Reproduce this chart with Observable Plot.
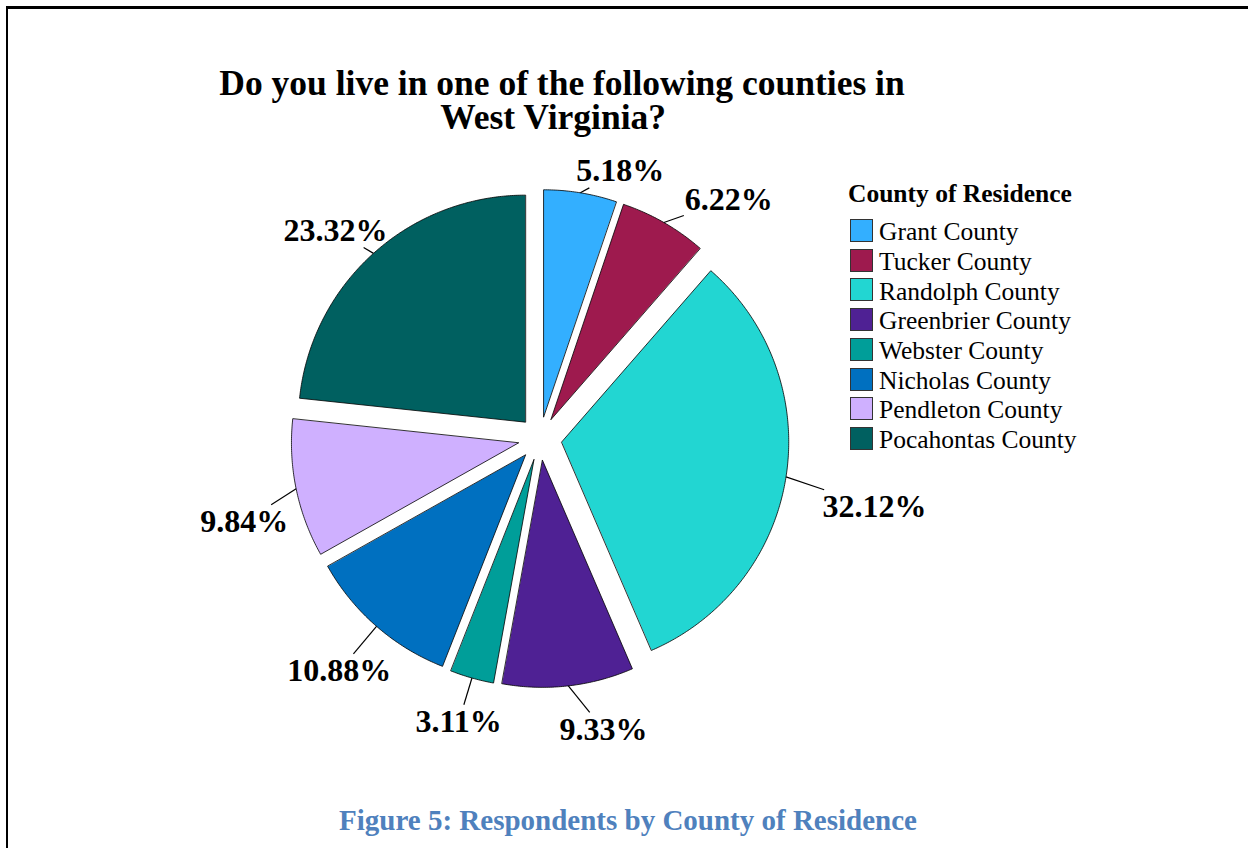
<!DOCTYPE html>
<html>
<head>
<meta charset="utf-8">
<script src="https://cdn.jsdelivr.net/npm/d3@7"></script>
<script src="https://cdn.jsdelivr.net/npm/@observablehq/plot@0.6"></script>
<style>
  html, body { margin: 0; padding: 0; background: #fff; }
  #page { position: relative; width: 1248px; height: 848px; overflow: hidden;
          font-family: "Liberation Serif", "Times New Roman", serif; color: #000; }
  #frame { position: absolute; left: 6px; top: 6px; right: -20px; bottom: -20px;
           border-top: 3px solid #000; border-left: 2px solid #000; }
  #plot svg { position: absolute; left: 0; top: 0; }
  .title { position: absolute; left: 162px; width: 800px; text-align: center;
           font-weight: bold; font-size: 35.5px; line-height: 34px; white-space: pre; }
  .legend-title { position: absolute; left: 848px; font-weight: bold; font-size: 25.5px; white-space: nowrap; }
  .legend-row { position: absolute; left: 850px; height: 24px; white-space: nowrap; }
  .legend-row .sw { position: absolute; left: 0; top: 0; width: 21px; height: 21px; border: 1px solid #333; }
  .legend-row .lb { position: absolute; left: 29px; font-size: 25.5px; }
  .caption { position: absolute; left: 228px; width: 800px; text-align: center; font-weight: bold;
             font-size: 29px; color: #4F81BD; white-space: nowrap; }
</style>
</head>
<body>
<div id="page">
  <div id="frame"></div>
  <div id="plot"></div>
</div>
<script>
// ---- data ----
const counties = ["Grant County", "Tucker County", "Randolph County", "Greenbrier County",
                  "Webster County", "Nicholas County", "Pendleton County", "Pocahontas County"];
const percents = [5.18, 6.22, 32.12, 9.33, 3.11, 10.88, 9.84, 23.32];
const colors = ["#33AFFF", "#9E1A4E", "#22D6D2", "#4F2194", "#009E99", "#0070C0", "#CFB0FF", "#006060"];
const titleLines = ["Do you live in one of the following counties in", "West Virginia?"];
const legendTitle = "County of Residence";
const captionText = "Figure 5: Respondents by County of Residence";

// ---- layout ----
const W = 1248, H = 848;
const CX = 539.5, CY = 438;   // pie centre in px
const K = 227;                // px per unit radius
const EXPLODE = 22 / K;
const FS = 32;                // percent label font size

const arcs = d3.pie().sort(null).value(d => d)(percents);

// slice outlines (unit coordinates, y up)
const slicePts = [];
arcs.forEach((a, i) => {
  const mid = (a.startAngle + a.endAngle) / 2;
  const ox = EXPLODE * Math.sin(mid), oy = EXPLODE * Math.cos(mid);
  slicePts.push({county: counties[i], x: ox, y: oy});
  const n = Math.max(2, Math.ceil((a.endAngle - a.startAngle) / (Math.PI / 360)));
  for (let j = 0; j <= n; j++) {
    const t = a.startAngle + (a.endAngle - a.startAngle) * j / n;
    slicePts.push({county: counties[i], x: ox + Math.sin(t), y: oy + Math.cos(t)});
  }
});

// labels on an outer ring + leader lines (computed in px relative to centre, screen y down)
const textW = s => { let w = 0; for (const c of s) w += c === "%" ? 1.0 : c === "." ? 0.25 : 0.5; return w * FS; };
const spow = (v, p) => Math.sign(v) * Math.pow(Math.abs(v), p);
const LBL = {ox: 18.2, oy: 10.8, ax: 319.8, ay: 281.6, px: 0.9, py: 0.85, hh: 17};
const labels = arcs.map((a, i) => {
  const mid = (a.startAngle + a.endAngle) / 2;
  const dx = Math.sin(mid), dy = -Math.cos(mid);
  const label = percents[i].toFixed(2) + "%";
  // label centre
  const cx = LBL.ox + LBL.ax * spow(dx, LBL.px);
  const cy = LBL.oy + LBL.ay * spow(dy, LBL.py);
  // leader start on the slice edge
  const r0 = K * (1 + EXPLODE);
  const sx = r0 * dx, sy = r0 * dy;
  // leader end where the segment enters the label box
  const hw = textW(label) / 2 + 1, hh = LBL.hh;
  const vx = cx - sx, vy = cy - sy;
  const tx = Math.abs(vx) > hw ? (Math.abs(vx) - hw) / Math.abs(vx) : 0;
  const ty = Math.abs(vy) > hh ? (Math.abs(vy) - hh) / Math.abs(vy) : 0;
  const t = Math.max(tx, ty);
  const ex = sx + t * vx, ey = sy + t * vy;
  return {
    label,
    x1: sx / K, y1: -sy / K,
    x2: ex / K, y2: -ey / K,
    lx: cx / K, ly: -cy / K
  };
});

const plot = Plot.plot({
  width: W, height: H, margin: 0,
  style: {background: "transparent", overflow: "visible"},
  x: {domain: [-CX / K, (W - CX) / K], axis: null},
  y: {domain: [-(H - CY) / K, CY / K], axis: null},
  color: {domain: counties, range: colors},
  marks: [
    Plot.line(slicePts, {x: "x", y: "y", z: "county", fill: "county", stroke: "black",
                         strokeWidth: 0.8, curve: "linear-closed"}),
    Plot.link(labels, {x1: "x1", y1: "y1", x2: "x2", y2: "y2", stroke: "black", strokeWidth: 1.2}),
    Plot.text(labels, {x: "lx", y: "ly", text: "label", fontSize: FS, fontWeight: "bold",
                       fontFamily: "Liberation Serif, Times New Roman, serif", fill: "black",
                       textAnchor: "middle", lineAnchor: "middle"})
  ]
});
document.getElementById("plot").appendChild(plot);

// ---- text overlays ----
const page = document.getElementById("page");
// title: one text block of two lines (baselines ~95, ~129)
const title = document.createElement("div");
title.className = "title";
title.style.top = "66px";
title.textContent = titleLines[0] + "\n" + titleLines[1] + "  ";
page.appendChild(title);
// legend
const lt = document.createElement("div");
lt.className = "legend-title"; lt.textContent = legendTitle;
lt.style.top = (202 - 0.891 * 25.5 - 0.5) + "px";
page.appendChild(lt);
counties.forEach((c, i) => {
  const row = document.createElement("div");
  row.className = "legend-row";
  row.style.top = (219 + i * 29.7) + "px";
  const sw = document.createElement("div"); sw.className = "sw"; sw.style.background = colors[i];
  const lb = document.createElement("div"); lb.className = "lb"; lb.textContent = c;
  lb.style.top = (21 - 0.891 * 25.5) + "px";
  row.appendChild(sw); row.appendChild(lb);
  page.appendChild(row);
});
// caption
const cap = document.createElement("div");
cap.className = "caption"; cap.textContent = captionText;
cap.style.top = (830 - 0.891 * 29) + "px";
page.appendChild(cap);
</script>
</body>
</html>
